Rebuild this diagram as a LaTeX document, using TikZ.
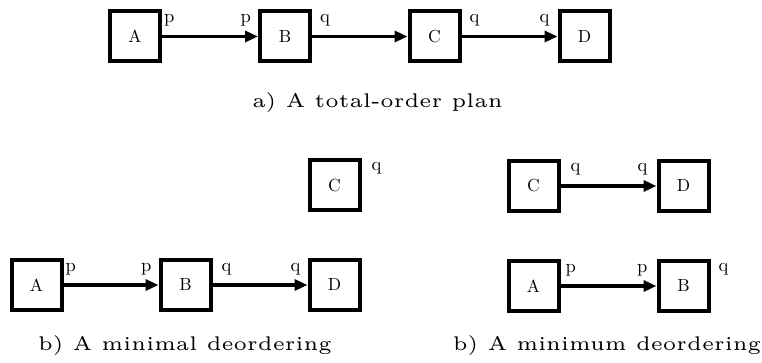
\documentclass[tikz,border=0pt]{standalone}
\usepackage{fontspec}
\setmainfont{lmroman5-regular}[Extension=.otf]
\newfontfamily\boxfont{lmroman10-regular}[Extension=.otf]
\usetikzlibrary{arrows.meta,calc}
\begin{document}
\begin{tikzpicture}[x=1pt,y=-1pt,
  box/.style={draw, line width=4pt, minimum size=50pt, inner sep=0pt, font=\boxfont\fontsize{17.5}{17.5}\selectfont},
  lbl/.style={inner sep=0pt, font=\boxfont\fontsize{18.5}{18.5}\selectfont},
  arr/.style={line width=3.5pt, -{Triangle[length=13pt,width=11pt]}},
  captext/.style={inner sep=0pt, anchor=base, font=\fontsize{19.8}{19.8}\selectfont}]
\useasboundingbox (0,0) rectangle (762,363);
% ---- a) total order
\node[box] (tA) at (135,36.5) {A};
\node[box] (tB) at (285,36.5) {B};
\node[box] (tC) at (434.5,36.5) {C};
\node[box] (tD) at (584.5,36.5) {D};
\draw[arr] (tA) -- (tB);
\draw[arr] (tB) -- (tC);
\draw[arr] (tC) -- (tD);
\node[lbl, anchor=base west] (tAp) at ($(tA.north east)+(2,13)$) {p};
\node[lbl, anchor=base east] (tBp) at ($(tB.north west)+(-7,13)$) {p};
\node[lbl, anchor=base west] (tBq) at ($(tB.north east)+(8,13)$) {q};
\node[lbl, anchor=base west] (tCq) at ($(tC.north east)+(8,13)$) {q};
\node[lbl, anchor=base east] (tDq) at ($(tD.north west)+(-8,13)$) {q};
\node[captext] (capa) at (377.5,108) {a) A total-order plan};
% ---- b) minimal deordering
\node[box] (lC) at (334.5,185.5) {C};
\node[box] (lA) at (36.5,285) {A};
\node[box] (lB) at (185.5,285) {B};
\node[box] (lD) at (334.5,285) {D};
\draw[arr] (lA) -- (lB);
\draw[arr] (lB) -- (lD);
\node[lbl, anchor=base west] (lCq) at ($(lC.north east)+(10,12.5)$) {q};
\node[lbl, anchor=base west] (lAp) at ($(lA.north east)+(2,13)$) {p};
\node[lbl, anchor=base east] (lBp) at ($(lB.north west)+(-7,13)$) {p};
\node[lbl, anchor=base west] (lBq) at ($(lB.north east)+(9,13)$) {q};
\node[lbl, anchor=base east] (lDq) at ($(lD.north west)+(-7,13)$) {q};
\node[captext] (capb) at (185,350) {b) A minimal deordering};
% ---- b) minimum deordering
\node[box] (rC) at (533.5,186) {C};
\node[box] (rD) at (683.5,186) {D};
\node[box] (rA) at (533.5,286) {A};
\node[box] (rB) at (683.5,286) {B};
\draw[arr] (rC) -- (rD);
\draw[arr] (rA) -- (rB);
\node[lbl, anchor=base west] (rCq) at ($(rC.north east)+(10,13)$) {q};
\node[lbl, anchor=base east] (rDq) at ($(rD.north west)+(-9,13)$) {q};
\node[lbl, anchor=base west] (rAp) at ($(rA.north east)+(5,13)$) {p};
\node[lbl, anchor=base east] (rBp) at ($(rB.north west)+(-9,13)$) {p};
\node[lbl, anchor=base west] (rBq) at ($(rB.north east)+(8,12)$) {q};
\node[captext] (capc) at (607,350) {b) A minimum deordering};
\end{tikzpicture}
\end{document}
